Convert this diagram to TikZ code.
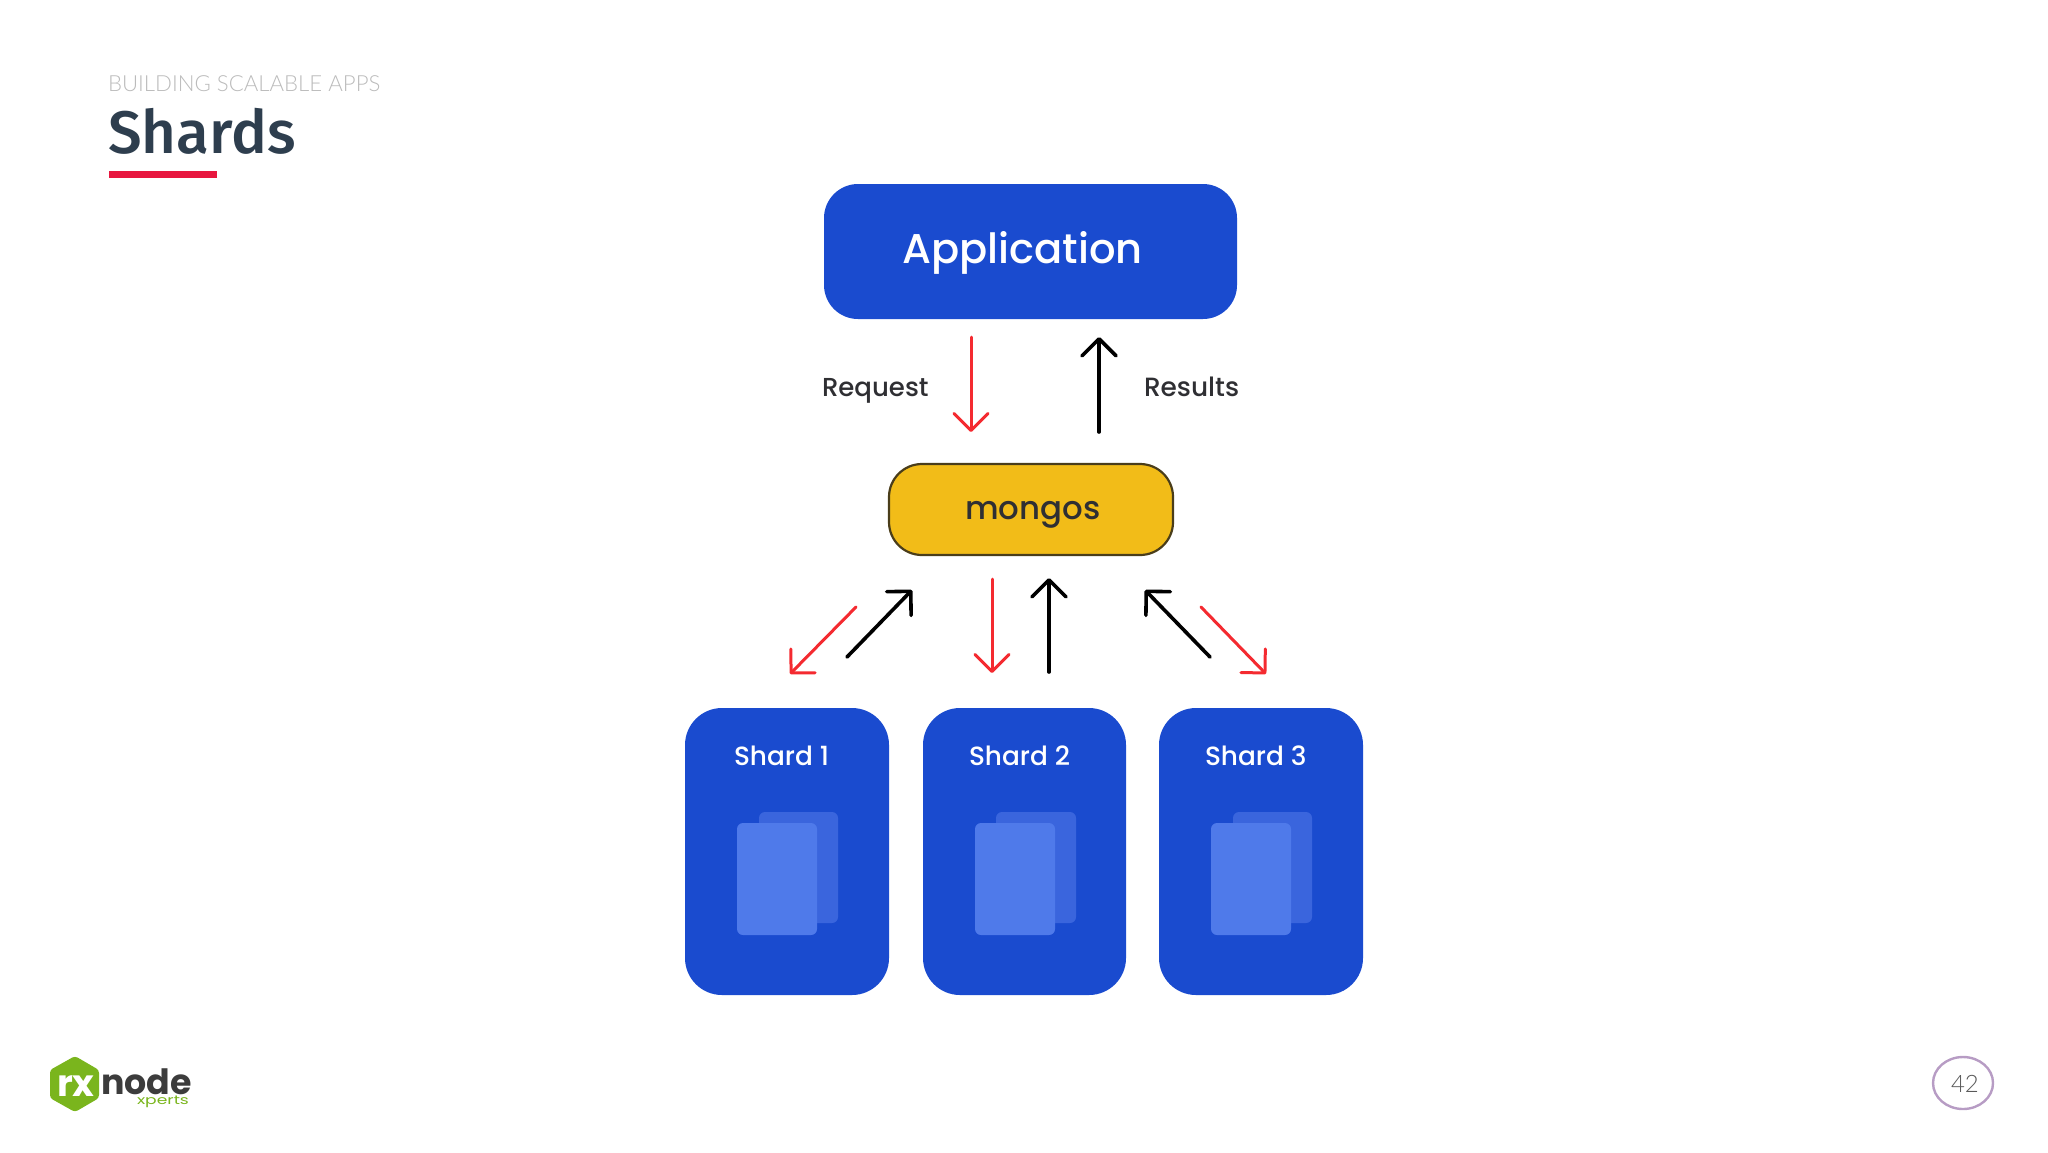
\documentclass[tikz,border=0pt]{standalone}
\usepackage{fontspec}
\usepackage{graphicx}
\usetikzlibrary{arrows.meta}
\setmainfont{Liberation Sans}
\newfontfamily\diag{Poppins Medium}
\newfontfamily\titlef{Fira Sans Medium}
\newfontfamily\lightf{Lato Light}
\newfontfamily\logof{Poppins}
\definecolor{appblue}{HTML}{1A4BCF}
\definecolor{docfront}{HTML}{4F7AEA}
\definecolor{docback}{HTML}{3A65DD}
\definecolor{mongofill}{HTML}{F2BC18}
\definecolor{mongoline}{HTML}{4A3D1A}
\definecolor{arrowred}{HTML}{F42A30}
\definecolor{inkdark}{HTML}{2F2F33}
\definecolor{titleink}{HTML}{2E3E4E}
\definecolor{subink}{HTML}{BBBBBB}
\definecolor{barred}{HTML}{E8173F}
\definecolor{logogreen}{HTML}{7AB51D}
\definecolor{logodark}{HTML}{3C3C3C}
\definecolor{ringpurple}{HTML}{B79CC4}
\tikzset{
  x=0.5pt,y=-0.5pt,
  txt/.style={inner sep=0pt,outer sep=0pt,anchor=base west},
  redarrow/.style={draw=arrowred,line width=1.5pt,line cap=round,-{Straight Barb[length=8.5pt,width=17pt,round]}},
  blackarrow/.style={draw=black,line width=1.8pt,line cap=round,-{Straight Barb[length=8.5pt,width=17pt,round]}},
  docb/.style={fill=docback,rounded corners=3pt},
  docf/.style={fill=docfront,rounded corners=3pt},
}
\begin{document}
\begin{tikzpicture}
\useasboundingbox (0,0) rectangle (2048,1152);
% header
\node[txt,text=subink,font=\lightf\fontsize{11.1}{13}\selectfont] (kicker) at (108,91) {BUILDING SCALABLE APPS};
\node[txt,text=titleink,font=\titlef\fontsize{30}{34}\selectfont] (title) at (108,153) {Shards};
\fill[barred] (109,171) rectangle (217,178);
% application
\fill[appblue,rounded corners=17pt] (824,184) rectangle (1237,319);
\node[txt,text=white,font=\diag\fontsize{20.8}{26}\selectfont] (app) at (902,263) {Application};
\coordinate (reqA) at (971,337); \coordinate (reqB) at (971,432);
\coordinate (resA) at (1099,432); \coordinate (resB) at (1099,337);
\draw[redarrow] (reqA) -- (reqB);
\draw[blackarrow] (resA) -- (resB);
\node[txt,text=inkdark,font=\diag\fontsize{13}{16}\selectfont] (request) at (822,396) {Request};
\node[txt,text=inkdark,font=\diag\fontsize{13.2}{16}\selectfont] (results) at (1144,396) {Results};
% mongos
\draw[fill=mongofill,draw=mongoline,line width=1.1pt,rounded corners=16.5pt] (889,464) rectangle (1173,555);
\node[txt,text=inkdark,font=\diag\fontsize{16.2}{20}\selectfont] (mongos) at (965,519) {mongos};
% lower arrows
\coordinate (a1) at (856,607); \coordinate (a2) at (790,674);
\coordinate (b1) at (847,657); \coordinate (b2) at (912,590);
\coordinate (c1) at (992,579); \coordinate (c2) at (992,673);
\coordinate (d1) at (1049,672); \coordinate (d2) at (1049,578);
\coordinate (e1) at (1210,657); \coordinate (e2) at (1145,590);
\coordinate (f1) at (1201,607); \coordinate (f2) at (1266,674);
\draw[redarrow] (a1) -- (a2);
\draw[blackarrow] (b1) -- (b2);
\draw[redarrow] (c1) -- (c2);
\draw[blackarrow] (d1) -- (d2);
\draw[blackarrow] (e1) -- (e2);
\draw[redarrow] (f1) -- (f2);
% shards
\fill[appblue,rounded corners=18.5pt] (685,708) rectangle (889,995);
\fill[appblue,rounded corners=18.5pt] (923,708) rectangle (1126,995);
\fill[appblue,rounded corners=18.5pt] (1159,708) rectangle (1363,995);
\foreach \nm/\tx/\lb in {s1/734/Shard 1,s2/969/Shard 2,s3/1205/Shard 3}{
  \node[txt,text=white,font=\diag\fontsize{13.2}{16}\selectfont] (\nm) at (\tx,765) {\lb};
}
\fill[docb] (759,812) rectangle (838,923);
\fill[docf] (737,823) rectangle (817,935);
\fill[docb] (996,812) rectangle (1076,923);
\fill[docf] (975,823) rectangle (1055,935);
\fill[docb] (1233,812) rectangle (1312,923);
\fill[docf] (1211,823) rectangle (1291,935);
% logo
\fill[logogreen,rounded corners=1.5pt] (75,1056) -- (99,1070) -- (99,1098) -- (75,1112) -- (50,1098) -- (50,1070) -- cycle;
\node[txt,text=white,font=\logof\bfseries\fontsize{18.5}{24}\selectfont] (rx) at (57,1096) {rx};
\node[txt,text=logodark,font=\logof\bfseries\fontsize{17.4}{20}\selectfont] (nodeword) at (101,1094) {node};
\node[txt,text=logogreen,font=\logof\fontsize{6.2}{7}\selectfont] (xperts) at (137,1104) {\scalebox{1.38}[1]{xperts}};
% page number
\draw[ringpurple,line width=1.2pt] (1963,1083) ellipse [x radius=30,y radius=26];
\node[txt,text=black!65,font=\lightf\fontsize{12}{14}\selectfont] (page) at (1951,1092) {42};
\end{tikzpicture}
\end{document}
